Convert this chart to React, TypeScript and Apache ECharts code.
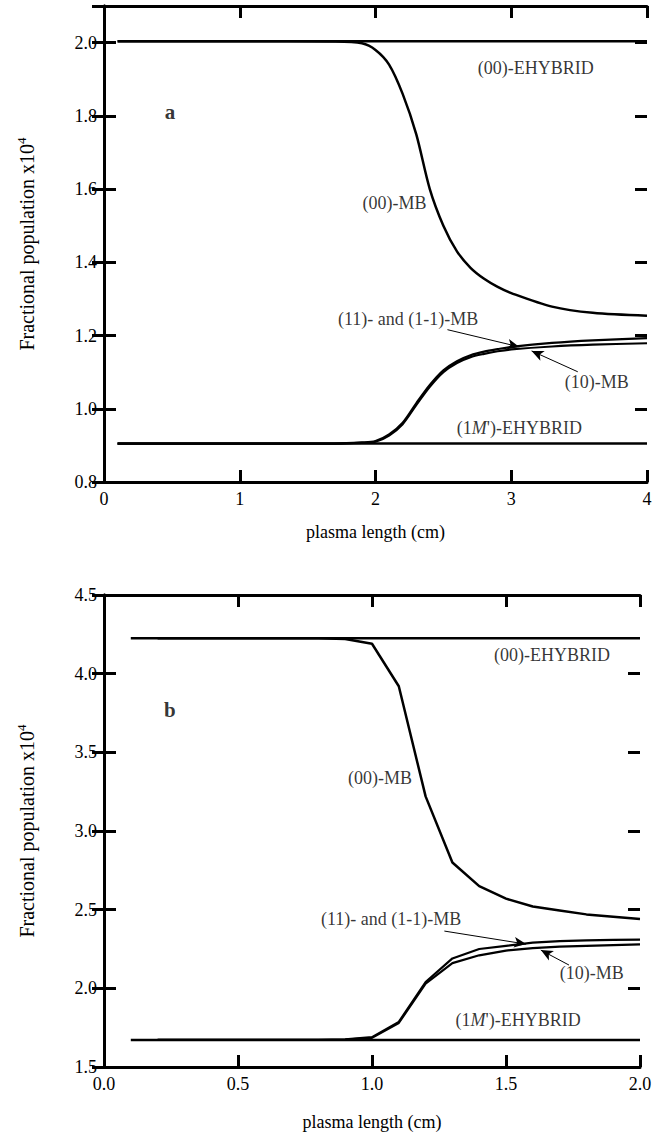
import React, { useEffect, useRef } from "react";
import * as echarts from "echarts";

// ---------- Panel a data ----------
const aX = [0.1, 1.0, 1.7, 1.9, 2.0, 2.1, 2.2, 2.3, 2.4, 2.5, 2.6, 2.7, 2.8, 2.9, 3.0, 3.3, 3.6, 4.0];
const a00MB = [2.004, 2.004, 2.003, 1.998, 1.98, 1.94, 1.86, 1.75, 1.6, 1.5, 1.43, 1.385, 1.355, 1.333, 1.316, 1.279, 1.262, 1.254];
const a11MB = [0.905, 0.905, 0.905, 0.908, 0.912, 0.93, 0.962, 1.015, 1.065, 1.105, 1.13, 1.146, 1.156, 1.163, 1.169, 1.18, 1.187, 1.193];
const a10MB = [0.905, 0.905, 0.905, 0.907, 0.91, 0.927, 0.958, 1.01, 1.06, 1.1, 1.125, 1.141, 1.15, 1.157, 1.162, 1.17, 1.175, 1.179];
const aEHYB00 = [[0.1, 2.004], [4.0, 2.004]];
const aEHYB1M = [[0.1, 0.905], [4.0, 0.905]];
const aXTicks = [0, 1, 2, 3, 4];
const aYTicks = [0.8, 1.0, 1.2, 1.4, 1.6, 1.8, 2.0];
const aYMax = 2.1;

// ---------- Panel b data ----------
const bX = [0.2, 0.5, 0.8, 0.9, 1.0, 1.1, 1.2, 1.3, 1.4, 1.5, 1.6, 1.7, 1.8, 1.9, 2.0];
const b00MB = [4.225, 4.225, 4.225, 4.22, 4.19, 3.92, 3.22, 2.8, 2.65, 2.57, 2.52, 2.495, 2.47, 2.455, 2.44];
const b11MB = [1.672, 1.672, 1.672, 1.675, 1.69, 1.787, 2.04, 2.19, 2.25, 2.27, 2.29, 2.3, 2.305, 2.308, 2.31];
const b10MB = [1.672, 1.672, 1.672, 1.674, 1.685, 1.78, 2.03, 2.16, 2.21, 2.24, 2.255, 2.265, 2.27, 2.275, 2.28];
const bEHYB00 = [[0.1, 4.225], [2.0, 4.225]];
const bEHYB1M = [[0.1, 1.672], [2.0, 1.672]];
const bXTicks = [0, 0.5, 1.0, 1.5, 2.0];
const bYTicks = [1.5, 2.0, 2.5, 3.0, 3.5, 4.0, 4.5];
const bYMax = 4.5;

// ---------- Annotation texts (data coordinates) ----------
const aLabels = [
  { text: "(00)-EHYBRID", x: 3.18, y: 1.93 },
  { text: "{b|a}", x: 0.486, y: 1.81 },
  { text: "(00)-MB", x: 2.14, y: 1.562 },
  { text: "(11)- and (1-1)-MB", x: 2.24, y: 1.246 },
  { text: "(10)-MB", x: 3.63, y: 1.074 },
  { text: "(1{i|M}')-EHYBRID", x: 3.06, y: 0.948 },
];
const bLabels = [
  { text: "(00)-EHYBRID", x: 1.672, y: 4.118 },
  { text: "{b|b}", x: 0.246, y: 3.768 },
  { text: "(00)-MB", x: 1.03, y: 3.336 },
  { text: "(11)- and (1-1)-MB", x: 1.071, y: 2.44 },
  { text: "(10)-MB", x: 1.82, y: 2.097 },
  { text: "(1{i|M}')-EHYBRID", x: 1.545, y: 1.8 },
];
const aArrows = [
  [[2.53, 1.216], [3.06, 1.169]],
  [[3.49, 1.101], [3.15, 1.158]],
];
const bArrows = [
  [[1.27, 2.364], [1.575, 2.281]],
  [[1.735, 2.148], [1.63, 2.243]],
];

const FONT = "Liberation Serif";
const BLACK = "black";
const TICK_LEN = 12;

const GRIDS = [
  { left: 104, top: 6, width: 543, height: 476 },
  { left: 104, top: 595, width: 536, height: 472 },
];

function zip(xs: number[], ys: number[]) {
  return xs.map((x, i) => [x, ys[i]]);
}

export default function App() {
  const ref = useRef<HTMLDivElement>(null);
  useEffect(() => {
    if (!ref.current) return;
    const chart = echarts.init(ref.current, undefined, { renderer: "svg" });

    const lineSeries = (idx: number, data: number[][], name: string, width = 2.5) => ({
      type: "line",
      name,
      xAxisIndex: idx * 2,
      yAxisIndex: idx * 2,
      data,
      showSymbol: false,
      symbol: "none",
      lineStyle: { color: BLACK, width },
      z: 3,
    });

    // inward ticks on all four sides as short segments in data space (fallback for axis ticks)
    const tickSegments = (idx: number, xTicks: number[], yTicks: number[], yMax: number) => {
      const g = GRIDS[idx];
      const xMin = xTicks[0];
      const xMax = xTicks[xTicks.length - 1];
      const yMin = yTicks[0];
      const dx = (TICK_LEN * (xMax - xMin)) / g.width;
      const dy = (TICK_LEN * (yMax - yMin)) / g.height;
      const segs: any[] = [];
      const seg = (a: number[], b: number[]) => [
        { coord: a, symbol: "none" },
        { coord: b, symbol: "none", lineStyle: { color: BLACK, width: 3, type: "solid" } },
      ];
      xTicks.slice(1, -1).forEach((v) => {
        segs.push(seg([v, yMin], [v, yMin + dy]));
        segs.push(seg([v, yMax], [v, yMax - dy]));
      });
      yTicks.slice(1).filter((v) => v < yMax - 1e-9).forEach((v) => {
        segs.push(seg([xMin, v], [xMin + dx, v]));
        segs.push(seg([xMax, v], [xMax - dx, v]));
      });
      return segs;
    };

    const labelSeries = (
      idx: number,
      labels: { text: string; x: number; y: number }[],
      arrows: number[][][],
      ticks: any[]
    ) => ({
      type: "scatter",
      xAxisIndex: idx * 2,
      yAxisIndex: idx * 2,
      symbolSize: 1,
      itemStyle: { color: "rgba(0,0,0,0)" },
      data: labels.map((l) => ({
        value: [l.x, l.y],
        label: { formatter: l.text },
      })),
      label: {
        show: true,
        position: "inside",
        color: BLACK,
        fontFamily: FONT,
        fontSize: 18,
        rich: {
          i: { fontFamily: FONT, fontSize: 18, fontStyle: "italic", color: BLACK },
          b: { fontFamily: FONT, fontSize: 21, fontWeight: "bold", color: BLACK },
        },
      },
      markLine: {
        silent: true,
        symbol: ["none", "arrow"],
        symbolSize: [8, 12],
        label: { show: false },
        lineStyle: { color: BLACK, width: 1, type: "solid" },
        data: [...arrows.map((a) => [{ coord: a[0] }, { coord: a[1] }]), ...ticks],
      },
    });

    const axisLine = () => ({ show: true, lineStyle: { color: BLACK, width: 3 } });
    const tick = () => ({ show: true, inside: true, length: TICK_LEN, lineStyle: { color: BLACK, width: 3 } });
    const labelStyle = { color: BLACK, fontFamily: FONT, fontSize: 18 };

    const yName = "Fractional population x10{sup|4}";
    const yNameStyle = {
      color: BLACK,
      fontFamily: FONT,
      fontSize: 20,
      rich: { sup: { fontFamily: FONT, fontSize: 13, verticalAlign: "top", padding: [0, 0, 10, 0], color: BLACK } },
    };

    const option: any = {
      animation: false,
      backgroundColor: "#fff",
      grid: GRIDS,
      xAxis: [
        {
          gridIndex: 0, type: "value", min: aXTicks[0], max: aXTicks[aXTicks.length - 1], interval: 1,
          axisLine: axisLine(), axisTick: tick(), splitLine: { show: false },
          axisLabel: { ...labelStyle, margin: 8, formatter: (v: number) => String(v) },
          name: "plasma length (cm)", nameLocation: "middle", nameGap: 41,
          nameTextStyle: { color: BLACK, fontFamily: FONT, fontSize: 18 },
        },
        {
          gridIndex: 0, type: "value", min: aXTicks[0], max: aXTicks[aXTicks.length - 1], interval: 1, position: "top",
          axisLine: axisLine(), axisTick: tick(), splitLine: { show: false }, axisLabel: { show: false },
        },
        {
          gridIndex: 1, type: "value", min: bXTicks[0], max: bXTicks[bXTicks.length - 1], interval: 0.5,
          axisLine: axisLine(), axisTick: tick(), splitLine: { show: false },
          axisLabel: { ...labelStyle, margin: 8, formatter: (v: number) => v.toFixed(1) },
          name: "plasma length (cm)", nameLocation: "middle", nameGap: 46,
          nameTextStyle: { color: BLACK, fontFamily: FONT, fontSize: 18 },
        },
        {
          gridIndex: 1, type: "value", min: bXTicks[0], max: bXTicks[bXTicks.length - 1], interval: 0.5, position: "top",
          axisLine: axisLine(), axisTick: tick(), splitLine: { show: false }, axisLabel: { show: false },
        },
      ],
      yAxis: [
        {
          gridIndex: 0, type: "value", min: aYTicks[0], max: aYMax, interval: 0.2,
          axisLine: axisLine(), axisTick: tick(), splitLine: { show: false },
          axisLabel: { ...labelStyle, margin: 7, showMaxLabel: false, formatter: (v: number) => (Math.abs(v - aYMax) < 1e-6 ? "" : v.toFixed(1)) },
          name: yName, nameLocation: "middle", nameGap: 66, nameRotate: 90, nameTextStyle: yNameStyle,
        },
        {
          gridIndex: 0, type: "value", min: aYTicks[0], max: aYMax, interval: 0.2, position: "right",
          axisLine: axisLine(), axisTick: tick(), splitLine: { show: false }, axisLabel: { show: false },
        },
        {
          gridIndex: 1, type: "value", min: bYTicks[0], max: bYMax, interval: 0.5,
          axisLine: axisLine(), axisTick: tick(), splitLine: { show: false },
          axisLabel: { ...labelStyle, margin: 7, formatter: (v: number) => v.toFixed(1) },
          name: yName, nameLocation: "middle", nameGap: 66, nameRotate: 90, nameTextStyle: yNameStyle,
        },
        {
          gridIndex: 1, type: "value", min: bYTicks[0], max: bYMax, interval: 0.5, position: "right",
          axisLine: axisLine(), axisTick: tick(), splitLine: { show: false }, axisLabel: { show: false },
        },
      ],
      series: [
        lineSeries(0, aEHYB00, "(00)-EHYBRID a"),
        lineSeries(0, aEHYB1M, "(1M')-EHYBRID a"),
        { ...lineSeries(0, zip(aX, a00MB), "(00)-MB a"), smooth: 0.3 },
        { ...lineSeries(0, zip(aX, a11MB), "(11)-MB a", 2.2), smooth: 0.3 },
        { ...lineSeries(0, zip(aX, a10MB), "(10)-MB a", 2.2), smooth: 0.3 },
        labelSeries(0, aLabels, aArrows, tickSegments(0, aXTicks, aYTicks, aYMax)),
        lineSeries(1, bEHYB00, "(00)-EHYBRID b"),
        lineSeries(1, bEHYB1M, "(1M')-EHYBRID b"),
        lineSeries(1, zip(bX, b00MB), "(00)-MB b"),
        lineSeries(1, zip(bX, b11MB), "(11)-MB b", 2.2),
        lineSeries(1, zip(bX, b10MB), "(10)-MB b", 2.2),
        labelSeries(1, bLabels, bArrows, tickSegments(1, bXTicks, bYTicks, bYMax)),
      ],
    };
    chart.setOption(option);
    return () => chart.dispose();
  }, []);

  return (
    <div
      ref={ref}
      style={{ position: "absolute", left: 0, top: 0, width: 667, height: 1133, background: "#fff" }}
    />
  );
}
